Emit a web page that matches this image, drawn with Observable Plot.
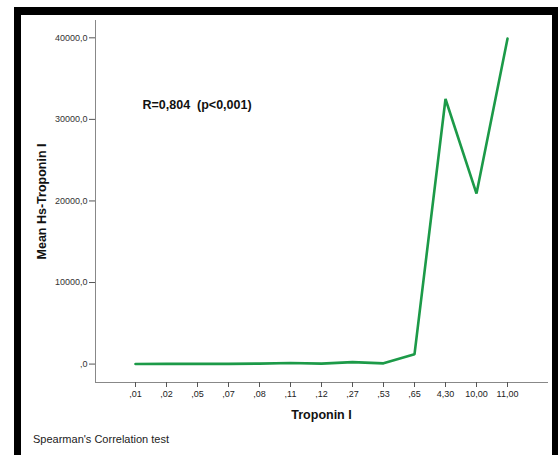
<!DOCTYPE html>
<html>
<head>
<meta charset="utf-8">
<script src="https://cdn.jsdelivr.net/npm/d3@7"></script>
<script src="https://cdn.jsdelivr.net/npm/@observablehq/plot@0.6"></script>
<style>
  html, body { margin: 0; padding: 0; background: #fff; }
  #wrap { position: relative; width: 558px; height: 455px; overflow: hidden; font-family: "Liberation Sans", Arial, sans-serif; }
  #frame { position: absolute; left: 14px; top: 7px; width: 531px; height: 460px; border-top: 8px solid #000; border-left: 7px solid #000; border-right: 6px solid #000; box-sizing: content-box; pointer-events: none; }
  #caption { position: absolute; left: 33px; top: 433px; font-size: 11px; color: #222; }
</style>
</head>
<body>
<div id="wrap">
  <div id="chart"></div>
  <div id="frame"></div>
  <div id="caption">Spearman's Correlation test</div>
</div>
<script>
const categories = [",01", ",02", ",05", ",07", ",08", ",11", ",12", ",27", ",53", ",65", "4,30", "10,00", "11,00"];
const meanHs = [10, 30, 20, 20, 60, 130, 60, 240, 90, 1200, 32500, 20900, 39900];
const yTicks = [0, 10000, 20000, 30000, 40000];
const annotation = "R=0,804  (p<0,001)";
const xTitle = "Troponin I";
const yTitle = "Mean Hs-Troponin I";

const data = categories.map((c, i) => ({cat: c, value: meanHs[i]}));
const fmt = v => v === 0 ? ",0" : `${v},0`;

const chart = Plot.plot({
  width: 558,
  height: 455,
  marginLeft: 95,
  marginRight: 11,
  marginTop: 20,
  marginBottom: 73,
  style: {fontFamily: "'Liberation Sans', Arial, sans-serif", background: "transparent"},
  x: {type: "point", domain: categories, padding: 1.23},
  y: {domain: [-2258, 42123]},
  marks: [
    Plot.frame({anchor: "left", stroke: "#888"}),
    Plot.frame({anchor: "bottom", stroke: "#888"}),
    Plot.axisY({ticks: yTicks, tickFormat: fmt, tickSize: 6, tickPadding: 2, fontSize: 9, color: "#333", stroke: "#555",
      label: yTitle, labelAnchor: "center", labelArrow: false, labelOffset: 58}),
    Plot.axisX({tickSize: 5, tickPadding: 3, fontSize: 9, color: "#222", stroke: "#555",
      label: xTitle, labelAnchor: "center", labelArrow: false, labelOffset: 36}),
    Plot.line(data, {x: "cat", y: "value", stroke: "#1c9a48", strokeWidth: 2.6, strokeLinejoin: "miter"}),
    Plot.text([annotation], {frameAnchor: "top-left", dx: 47, dy: 80, text: d => d, fontSize: 12.5, fontWeight: "bold", fill: "#111"})
  ]
});
document.getElementById("chart").appendChild(chart);
chart.querySelectorAll("g[aria-label='y-axis label'] text, g[aria-label='x-axis label'] text").forEach(t => {
  t.style.fontWeight = "bold"; t.style.fontSize = "12.5px"; t.style.fill = "#111";
});
</script>
</body>
</html>
